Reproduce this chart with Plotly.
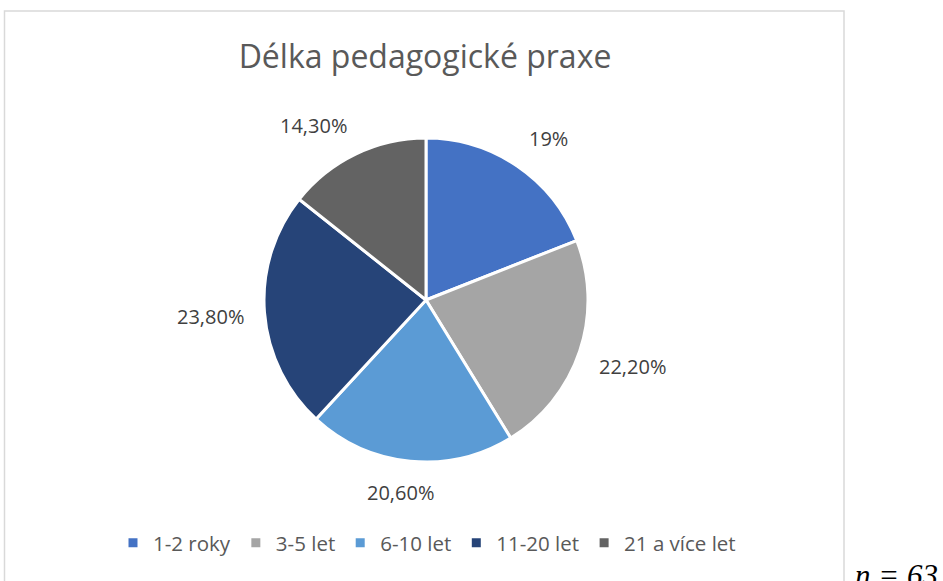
import numpy as np
import plotly.graph_objects as go

# data
categories = ["1-2 roky", "3-5 let", "6-10 let", "11-20 let", "21 a více let"]
values = [19.0, 22.2, 20.6, 23.8, 14.3]
value_labels = ["19%", "22,20%", "20,60%", "23,80%", "14,30%"]
colors = ["#4472C4", "#A5A5A5", "#5B9BD5", "#264478", "#636363"]

W, H = 943, 581
cx, cy, r = 426, 300, 162   # stred a polomer kolace v px
R_lab = 182                 # kde lezi nejblizsi roh popisku
lab_size = 20

fig = go.Figure()

# kolac
fig.add_trace(go.Pie(
    labels=categories,
    values=values,
    textinfo="none",
    marker=dict(colors=colors, line=dict(color="white", width=3)),
    sort=False,
    direction="clockwise",
    rotation=0,
    domain=dict(x=[(cx - r) / W, (cx + r) / W],
                y=[(H - cy - r) / H, (H - cy + r) / H]),
    hoverinfo="label+percent",
))

# popisky hodnot venku (jako v Excelu - roh popisku u stredniho uhlu vysece)
vals = np.array(values)
mid = (np.cumsum(vals) - vals / 2) / vals.sum() * 2 * np.pi
for ang, txt in zip(mid, value_labels):
    dx, dy = np.sin(ang), -np.cos(ang)
    w = sum(0.82 if c == "%" else 0.25 if c == "," else 0.572 for c in txt) * lab_size
    h = 22
    px = cx + R_lab * dx + np.clip(2.5 * dx, -1, 1) * w / 2
    py = cy + R_lab * dy + np.clip(2.5 * dy, -1, 1) * h / 2
    fig.add_annotation(text=txt, xref="paper", yref="paper",
                       x=px / W, y=(H - py) / H,
                       xanchor="center", yanchor="middle", showarrow=False,
                       font=dict(family="Open Sans", size=lab_size, color="#404040"))

# ramecek grafu
fig.add_shape(type="rect", xref="paper", yref="paper",
              x0=4.5 / W, x1=844 / W, y0=-0.05, y1=(H - 11) / H,
              line=dict(color="#D9D9D9", width=1.5), layer="below")

# n = 63
fig.add_annotation(text="<i>n = 63</i>", xref="paper", yref="paper",
                   x=940 / W, y=(H - 575) / H, xanchor="right", yanchor="middle",
                   showarrow=False,
                   font=dict(family="Liberation Serif", size=31, color="black"))

fig.update_layout(
    width=W, height=H,
    margin=dict(l=0, r=0, t=0, b=0),
    paper_bgcolor="white",
    plot_bgcolor="white",
    title=dict(text="Délka pedagogické praxe", x=425 / W, xanchor="center",
               y=(H - 57) / H, yanchor="middle",
               font=dict(family="Open Sans", size=32, color="#595959")),
    showlegend=True,
    legend=dict(orientation="h", x=427 / W, xanchor="center",
                y=(H - 543) / H, yanchor="middle",
                font=dict(family="Open Sans", size=20.5, color="#595959"),
                itemwidth=30, traceorder="normal"),
)

fig.write_html("out.html",
               config={"displayModeBar": False},
               post_script="document.body.style.margin='0';"
                           "document.body.style.overflow='hidden';")
